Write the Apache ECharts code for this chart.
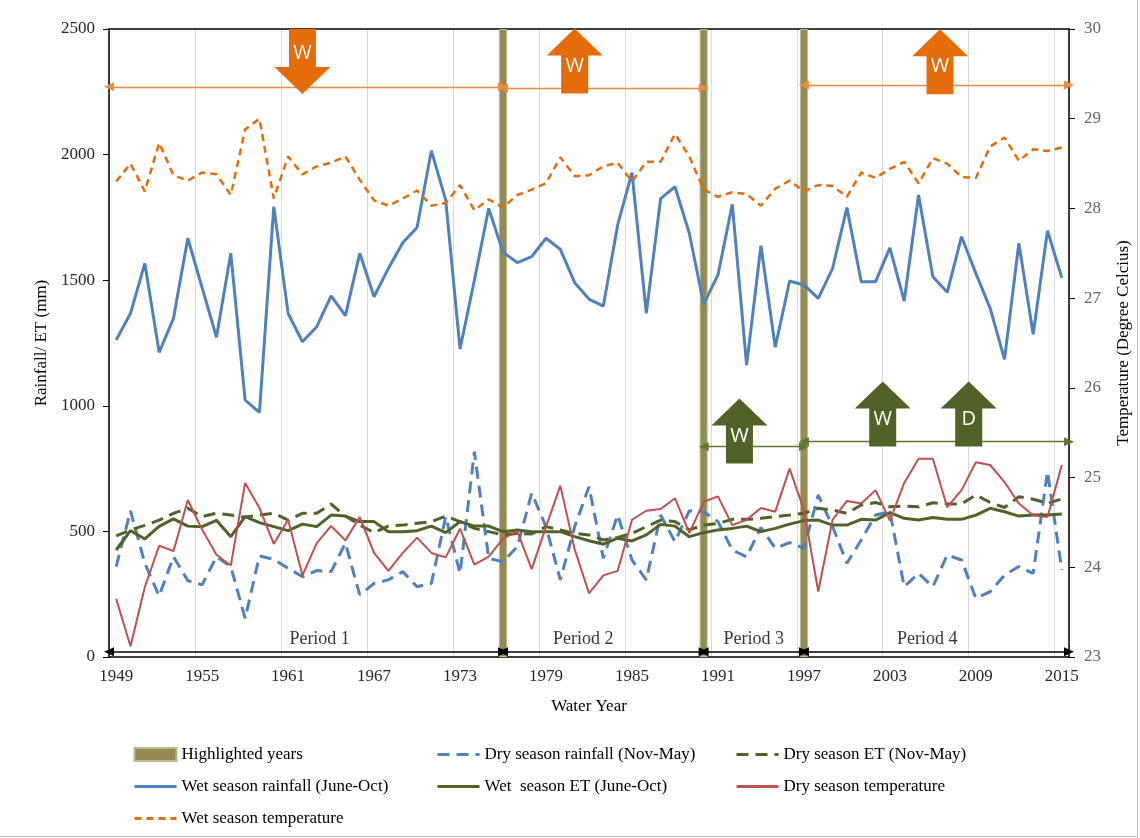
<!DOCTYPE html>
<html>
<head>
<meta charset="utf-8">
<title>Rainfall, ET and temperature by water year</title>
<script src="https://cdn.jsdelivr.net/npm/echarts@6/dist/echarts.min.js"></script>
<style>
  html, body { margin: 0; padding: 0; background: #fff; }
  #main { width: 1140px; height: 838px; }
</style>
</head>
<body>
<div id="main"></div>
<script>
// water years on the category axis
var years = ['1949','1950','1951','1952','1953','1954','1955','1956','1957','1958','1959','1960','1961','1962','1963','1964','1965','1966','1967','1968','1969','1970','1971','1972','1973','1974','1975','1976','1977','1978','1979','1980','1981','1982','1983','1984','1985','1986','1987','1988','1989','1990','1991','1992','1993','1994','1995','1996','1997','1998','1999','2000','2001','2002','2003','2004','2005','2006','2007','2008','2009','2010','2011','2012','2013','2014','2015'];

var highlightedYears = ['1976', '1990', '1997'];
var highlightTop = 2500;

// rainfall / ET (mm), left axis
var dryRain = [360,582,373,243,399,304,287,399,360,154,402,389,353,320,344,340,453,247,293,307,340,280,293,559,333,817,393,379,439,652,519,307,519,678,393,565,386,307,565,459,582,578,539,426,399,516,433,455,433,645,519,373,466,565,578,280,333,280,406,386,234,260,326,360,333,738,346];
var dryET = [482,506,524,545,572,592,559,572,565,556,565,572,545,572,572,609,561,525,495,521,525,532,539,561,539,512,499,486,492,490,519,506,492,486,466,476,492,519,545,539,506,525,532,548,548,552,559,565,572,592,585,572,605,615,598,601,598,614,609,609,645,615,595,638,628,612,629];
var wetRain = [1262,1368,1567,1213,1348,1667,1470,1273,1607,1023,974,1793,1368,1255,1315,1438,1359,1607,1434,1547,1649,1710,2016,1819,1226,1500,1786,1611,1570,1594,1667,1623,1490,1425,1397,1720,1928,1368,1825,1872,1687,1405,1521,1802,1162,1637,1233,1497,1481,1428,1547,1789,1494,1494,1629,1417,1839,1514,1452,1673,1527,1388,1185,1647,1285,1697,1509];
var wetET = [426,503,470,520,550,521,519,544,479,559,535,519,503,529,519,565,561,539,539,499,499,503,521,495,539,521,521,499,506,499,499,499,479,463,449,473,462,486,528,521,479,495,506,512,521,499,512,529,543,545,525,525,548,545,575,552,545,555,548,548,565,592,578,561,565,565,569];

// temperature (degree Celsius), right axis
var dryTemp = [23.65,23.12,23.78,24.24,24.18,24.75,24.42,24.14,24.02,24.94,24.66,24.26,24.53,23.91,24.27,24.46,24.30,24.56,24.16,23.96,24.16,24.33,24.16,24.11,24.43,24.03,24.12,24.32,24.40,23.98,24.45,24.91,24.20,23.71,23.91,23.96,24.53,24.63,24.65,24.77,24.38,24.73,24.79,24.47,24.53,24.66,24.62,25.10,24.64,23.73,24.53,24.74,24.71,24.86,24.52,24.94,25.21,25.21,24.67,24.86,25.17,25.14,24.95,24.71,24.58,24.56,25.14];
var wetTemp = [28.30,28.50,28.19,28.73,28.37,28.31,28.40,28.38,28.15,28.88,29.00,28.11,28.58,28.38,28.47,28.51,28.58,28.32,28.09,28.03,28.11,28.20,28.03,28.06,28.26,27.98,28.10,28.01,28.15,28.21,28.28,28.57,28.36,28.37,28.47,28.51,28.30,28.52,28.52,28.83,28.58,28.21,28.13,28.18,28.16,28.03,28.22,28.31,28.19,28.26,28.25,28.13,28.40,28.34,28.44,28.52,28.28,28.56,28.50,28.35,28.34,28.69,28.79,28.53,28.66,28.64,28.68];

// annotations, in [year, mm] on the plot
var periodNames = ['Period 1', 'Period 2', 'Period 3', 'Period 4'];
var periodBounds = [1948.5, 1976, 1990, 1997, 2015.5];
var periodLabelYears = [1963.2, 1981.6, 1993.5, 2005.6];
var periodLabelLevel = 70;
var periodLineLevel = 21;

var wetTrendSpans = [[1948.5, 1976, 2270], [1976, 1990, 2265], [1997, 2015.5, 2277]];
var wetTrendArrows = [['W', 1962, 2371, 'down'], ['W', 1981, 2373, 'up'], ['W', 2006.5, 2370, 'up']];
var etTrendSpans = [[1990, 1997, 837], [1997, 2015.5, 857]];
var etTrendArrows = [['W', 1992.5, 900, 'up'], ['W', 2002.5, 967, 'up'], ['D', 2008.5, 967, 'up']];

var serif = 'Liberation Serif';
var orange = '#E46C0A';
var olive = '#4F6228';
var blue = '#4F81BD';
var arrowPath = 'path://M28,0 L56,27 L41.5,27 L41.5,65 L14.5,65 L14.5,27 L0,27 Z';

var highlightBars = years.map(function (y) {
  return highlightedYears.indexOf(y) >= 0 ? highlightTop : '-';
});

function arrowItems(list, color) {
  return list.map(function (a) {
    return {
      name: a[0],
      value: [a[1], a[2]],
      symbolRotate: a[3] === 'down' ? 180 : 0,
      itemStyle: { color: color, opacity: 1 },
      label: { offset: a[3] === 'down' ? [0, -8] : [0, 5] }
    };
  });
}

function spanLines(list, color) {
  return list.map(function (s) {
    return [
      { coord: [s[0], s[2]], lineStyle: { color: color, width: 1.3, type: 'solid' } },
      { coord: [s[1], s[2]] }
    ];
  });
}

var periodLines = [];
for (var i = 0; i < periodNames.length; i++) {
  periodLines.push([
    { coord: [periodBounds[i], periodLineLevel], lineStyle: { color: '#000', width: 1.5, type: 'solid' } },
    { coord: [periodBounds[i + 1], periodLineLevel] }
  ]);
}

var legendText = { fontFamily: serif, fontSize: 17, color: '#000' };

var chart = echarts.init(document.getElementById('main'));

chart.setOption({
  animation: false,
  backgroundColor: '#fff',
  textStyle: { fontFamily: serif },
  grid: { left: 109, right: 71, top: 29, bottom: 181, containLabel: false },
  legend: [
    {
      orient: 'vertical', left: 128, top: 741, itemGap: 15, itemWidth: 42, itemHeight: 13,
      itemStyle: { opacity: 0 }, lineStyle: { width: 3 }, textStyle: legendText,
      data: [{ name: 'Highlighted years', icon: 'rect', itemStyle: { opacity: 1 } }, 'Wet season rainfall (June-Oct)', 'Wet season temperature']
    },
    {
      orient: 'vertical', left: 431, top: 741, itemGap: 15, itemWidth: 42, itemHeight: 13,
      itemStyle: { opacity: 0 }, lineStyle: { width: 3 }, textStyle: legendText,
      data: ['Dry season rainfall (Nov-May)', 'Wet  season ET (June-Oct)']
    },
    {
      orient: 'vertical', left: 730, top: 741, itemGap: 15, itemWidth: 42, itemHeight: 13,
      itemStyle: { opacity: 0 }, lineStyle: { width: 3 }, textStyle: legendText,
      data: ['Dry season ET (Nov-May)', 'Dry season temperature']
    }
  ],
  xAxis: [
    {
      type: 'category',
      data: years,
      boundaryGap: true,
      position: 'bottom',
      name: 'Water Year',
      nameLocation: 'middle',
      nameGap: 41,
      nameTextStyle: { fontFamily: serif, fontSize: 17, color: '#000' },
      axisLine: { lineStyle: { color: '#000', width: 1.5 } },
      axisTick: { show: false },
      axisLabel: { interval: 5, margin: 11, fontFamily: serif, fontSize: 17, color: '#262626' },
      splitLine: { show: true, interval: 5, lineStyle: { color: '#D9D9D9', width: 1 } }
    },
    {
      type: 'value',
      min: 1948.5,
      max: 2015.5,
      position: 'top',
      axisLine: { show: true, onZero: false, lineStyle: { color: '#000', width: 1.5 } },
      axisTick: { show: false },
      axisLabel: { show: false },
      splitLine: { show: false }
    }
  ],
  yAxis: [
    {
      type: 'value',
      min: 0,
      max: 2500,
      interval: 500,
      position: 'left',
      name: 'Rainfall/ ET (mm)',
      nameLocation: 'middle',
      nameGap: 50,
      nameTextStyle: { fontFamily: serif, fontSize: 17, color: '#000' },
      axisLine: { show: true, lineStyle: { color: '#000', width: 1.5 } },
      axisTick: { show: true, length: 6, lineStyle: { color: '#000' } },
      axisLabel: {
        margin: 14, fontFamily: serif, fontSize: 17, color: '#262626',
        formatter: function (v) { return String(v); }
      },
      splitLine: { show: false }
    },
    {
      type: 'value',
      min: 23,
      max: 30,
      interval: 1,
      position: 'right',
      name: 'Temperature (Degree Celcius)',
      nameLocation: 'middle',
      nameGap: 46,
      nameTextStyle: { fontFamily: serif, fontSize: 17, color: '#000' },
      axisLine: { show: true, lineStyle: { color: '#000', width: 1.5 } },
      axisTick: { show: true, length: 6, lineStyle: { color: '#000' } },
      axisLabel: { margin: 15, fontFamily: serif, fontSize: 17, color: '#666' },
      splitLine: { show: false }
    }
  ],
  graphic: [
    { type: 'line', silent: true, shape: { x1: 1137.5, y1: 0, x2: 1137.5, y2: 838 }, style: { stroke: '#BFBFBF', lineWidth: 1 } },
    { type: 'line', silent: true, shape: { x1: 0, y1: 836.5, x2: 1138, y2: 836.5 }, style: { stroke: '#BFBFBF', lineWidth: 1 } }
  ],
  series: [
    {
      name: 'Highlighted years',
      type: 'bar',
      barWidth: 8,
      data: highlightBars,
      itemStyle: { color: '#948A54', borderColor: '#BFB78C', borderWidth: 1 },
      z: 1
    },
    {
      name: 'Dry season rainfall (Nov-May)',
      type: 'line',
      data: dryRain,
      symbol: 'none',
      lineStyle: { color: blue, width: 3, type: [12, 7] },
      itemStyle: { color: blue }
    },
    {
      name: 'Dry season ET (Nov-May)',
      type: 'line',
      data: dryET,
      symbol: 'none',
      lineStyle: { color: olive, width: 3, type: [12, 7] },
      itemStyle: { color: olive }
    },
    {
      name: 'Wet season rainfall (June-Oct)',
      type: 'line',
      data: wetRain,
      symbol: 'none',
      lineStyle: { color: blue, width: 3 },
      itemStyle: { color: blue }
    },
    {
      name: 'Wet  season ET (June-Oct)',
      type: 'line',
      data: wetET,
      symbol: 'none',
      lineStyle: { color: olive, width: 3 },
      itemStyle: { color: olive }
    },
    {
      name: 'Dry season temperature',
      type: 'line',
      yAxisIndex: 1,
      data: dryTemp,
      symbol: 'none',
      lineStyle: { color: '#C0504D', width: 2 },
      itemStyle: { color: '#C0504D' }
    },
    {
      name: 'Wet season temperature',
      type: 'line',
      yAxisIndex: 1,
      data: wetTemp,
      symbol: 'none',
      lineStyle: { color: orange, width: 2.5, type: [7, 5] },
      itemStyle: { color: orange }
    },
    {
      // period labels and the double arrows above the x axis
      type: 'scatter',
      xAxisIndex: 1,
      yAxisIndex: 0,
      silent: true,
      symbolSize: 0,
      z: 3,
      data: periodNames.map(function (n, k) { return { name: n, value: [periodLabelYears[k], periodLabelLevel] }; }),
      label: { show: true, position: 'inside', formatter: '{b}', fontFamily: serif, fontSize: 18, color: '#000' },
      markLine: {
        silent: true,
        symbol: ['triangle', 'triangle'],
        symbolSize: [9, 10],
        label: { show: false },
        emphasis: { disabled: true },
        data: periodLines.concat(spanLines(wetTrendSpans, '#F08A3C'), spanLines(etTrendSpans, '#5E7A32'))
      }
    },
    {
      // trend block arrows
      type: 'scatter',
      xAxisIndex: 1,
      yAxisIndex: 0,
      silent: true,
      z: 5,
      symbol: arrowPath,
      symbolSize: [56, 65],
      data: arrowItems(wetTrendArrows, orange).concat(arrowItems(etTrendArrows, olive)),
      label: { show: true, position: 'inside', formatter: '{b}', fontFamily: 'Open Sans', fontSize: 20, color: '#fff' }
    }
  ]
});
</script>
</body>
</html>
